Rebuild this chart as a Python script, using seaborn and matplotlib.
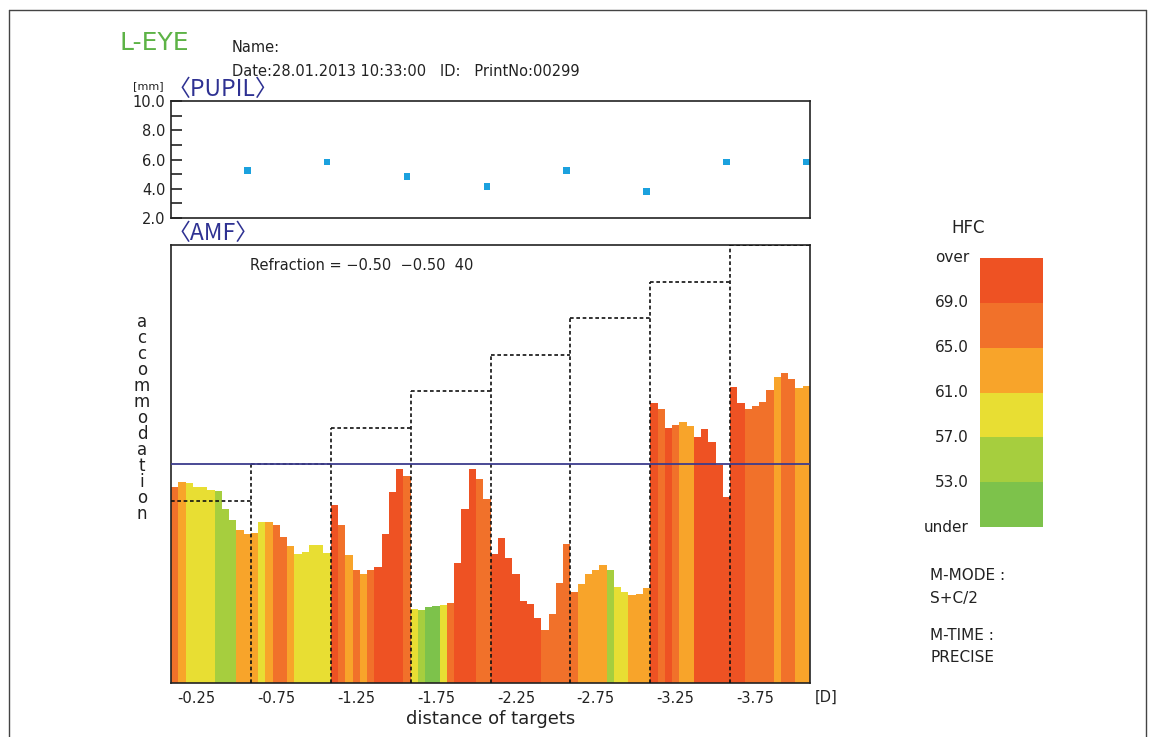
"""
AMF (accommodation micro-fluctuation) report, L-EYE, recreated with seaborn.
"""
import matplotlib
matplotlib.use("Agg")
import matplotlib.pyplot as plt
from matplotlib.colors import ListedColormap
from matplotlib.lines import Line2D
import numpy as np
import pandas as pd
import seaborn as sns

# ---- data ----
target_labels = ["-0.25", "-0.75", "-1.25", "-1.75", "-2.25", "-2.75", "-3.25", "-3.75"]
target_level = [2.5, 3.0, 3.5, 4.0, 4.5, 5.0, 5.5, 6.0]   # dashed staircase
refraction_level = 3.0                                    # solid blue line

pupil_mm = [5.25, 5.83, 4.83, 4.14, 5.25, 3.81, 5.83, 5.83]

# accommodation per bar, 11 bars per target
amf_g1 = [2.69, 2.75, 2.74, 2.68, 2.68, 2.65, 2.63, 2.39, 2.23, 2.09, 2.04]
amf_g2 = [2.06, 2.20, 2.20, 2.16, 2.00, 1.88, 1.77, 1.80, 1.89, 1.89, 1.78]
amf_g3 = [2.44, 2.16, 1.76, 1.55, 1.50, 1.55, 1.59, 2.04, 2.61, 2.93, 2.84]
amf_g4 = [1.02, 1.00, 1.04, 1.05, 1.07, 1.10, 1.65, 2.39, 2.93, 2.80, 2.52]
amf_g5 = [1.77, 1.98, 1.71, 1.50, 1.13, 1.08, 0.89, 0.73, 0.95, 1.37, 1.91]
amf_g6 = [1.25, 1.36, 1.49, 1.55, 1.62, 1.55, 1.32, 1.25, 1.21, 1.22, 1.30]
amf_g7 = [3.84, 3.75, 3.50, 3.54, 3.57, 3.52, 3.37, 3.48, 3.30, 2.99, 2.55]
amf_g8 = [4.06, 3.84, 3.75, 3.79, 3.85, 4.02, 4.19, 4.24, 4.16, 4.04, 4.07]

# HFC class per bar: 0=under..53, 1=53-57, 2=57-61, 3=61-65, 4=65-69, 5=over
hfc_g1 = [4, 3, 2, 2, 2, 2, 1, 1, 1, 3, 3]
hfc_g2 = [3, 2, 3, 4, 4, 3, 2, 2, 2, 2, 2]
hfc_g3 = [5, 4, 3, 4, 3, 4, 5, 5, 5, 5, 4]
hfc_g4 = [2, 1, 0, 0, 2, 4, 5, 5, 5, 4, 4]
hfc_g5 = [5, 5, 5, 5, 5, 5, 5, 4, 4, 4, 4]
hfc_g6 = [4, 3, 3, 3, 3, 1, 2, 2, 3, 3, 3]
hfc_g7 = [5, 4, 5, 4, 3, 3, 5, 5, 5, 5, 5]
hfc_g8 = [5, 5, 4, 4, 4, 4, 3, 4, 4, 3, 3]

hfc_colors = ["#7DC24B", "#A6CE3E", "#E8DE33", "#F8A42A", "#F1712A", "#EE5223"]
hfc_ticks = ["over", "69.0", "65.0", "61.0", "57.0", "53.0", "under"]

amf_groups = [amf_g1, amf_g2, amf_g3, amf_g4, amf_g5, amf_g6, amf_g7, amf_g8]
hfc_groups = [hfc_g1, hfc_g2, hfc_g3, hfc_g4, hfc_g5, hfc_g6, hfc_g7, hfc_g8]
n_per = len(amf_g1)
n_bars = n_per * len(amf_groups)

df = pd.DataFrame({
    "bar": np.arange(n_bars),
    "accommodation": np.concatenate(amf_groups),
    "hfc": np.concatenate(hfc_groups),
})

sns.set_theme(style="white")
plt.rcParams["font.family"] = ["DejaVu Sans", "Noto Sans CJK JP"]

W, H = 1153, 737
fig = plt.figure(figsize=(W / 100, H / 100), dpi=100)


def fx(px):
    return px / W


def fy(py):
    return 1 - py / H


NAVY = "#2E3192"
TXT = "#222222"
CJK = ["Noto Sans CJK JP", "DejaVu Sans"]

# ---- pupil panel ----
ax_p = fig.add_axes([fx(171), fy(218), fx(810) - fx(171), fy(101) - fy(218)])
pupil_x = [g * n_per + n_per - 1 for g in range(len(pupil_mm))]
sns.scatterplot(x=pupil_x, y=pupil_mm, marker="s", s=22, color="#1BA1DE",
                edgecolor="none", linewidth=0, ax=ax_p)
ax_p.set_xlim(-0.5, n_bars - 0.5)
ax_p.set_ylim(2.0, 10.0)
ax_p.set_yticks(np.arange(2, 11, 2))
ax_p.set_yticks(np.arange(3, 10, 2), minor=True)
ax_p.set_yticklabels([f"{v:.1f}" for v in np.arange(2, 11, 2)], fontsize=10.5, color=TXT)
ax_p.tick_params(axis="y", which="both", direction="in", length=8, width=1.2,
                 left=True, pad=4, color="#222222")
ax_p.set_xticks([])
for s in ax_p.spines.values():
    s.set_color("#222222")
    s.set_linewidth(1.2)

# ---- AMF panel ----
ax = fig.add_axes([fx(171), fy(683), fx(810) - fx(171), fy(245) - fy(683)])
sns.barplot(data=df, x="bar", y="accommodation", hue="hfc",
            palette=dict(enumerate(hfc_colors)), dodge=False, width=1.0,
            saturation=1, linewidth=0, legend=False, ax=ax)
ax.set_xlim(-0.5, n_bars - 0.5)
ax.set_ylim(0, 6.0)

# target staircase
dash = (0, (2.2, 1.6))
for g, lvl in enumerate(target_level):
    ax.hlines(lvl, g * n_per - 0.5, (g + 1) * n_per - 0.5, colors="#111111",
              linestyles=dash, linewidth=1.2, zorder=4)
    if g > 0:
        ax.vlines(g * n_per - 0.5, 0, max(lvl, target_level[g - 1]), colors="#111111",
                  linestyles=dash, linewidth=1.2, zorder=4)
ax.axhline(refraction_level, color="#3C3C8C", linewidth=1.3, zorder=5)

ax.set_xticks([g * n_per + 3 for g in range(len(target_labels))])
ax.set_xticklabels(target_labels, fontsize=10.5, color=TXT)
ax.set_yticks([])
ax.tick_params(axis="x", length=0, pad=6)
ax.set_xlabel("distance of targets", fontsize=13, color=TXT, labelpad=3)
ax.set_ylabel("")
for s in ax.spines.values():
    s.set_color("#222222")
    s.set_linewidth(1.2)

# stacked y label
for i, ch in enumerate("accommodation"):
    fig.text(fx(142), fy(327 + 16 * i), ch, fontsize=12, color=TXT,
             ha="center", va="baseline")

# ---- HFC legend ----
lax = fig.add_axes([fx(980), fy(527), fx(1043) - fx(980), fy(258) - fy(527)])
sns.heatmap(np.arange(len(hfc_colors))[::-1].reshape(-1, 1), cmap=ListedColormap(hfc_colors),
            vmin=-0.5, vmax=len(hfc_colors) - 0.5, cbar=False, xticklabels=False,
            linewidths=0, ax=lax)
lax.set_yticks(np.arange(len(hfc_ticks)))
lax.set_yticklabels(hfc_ticks, rotation=0, fontsize=11, color=TXT)
lax.tick_params(axis="y", length=0, pad=8)
lax.tick_params(axis="x", length=0)

# ---- texts ----
fig.text(fx(119), fy(43), "L-EYE", fontsize=18, color="#5DB346", va="center")
fig.text(fx(232), fy(47), "Name:", fontsize=10.5, color=TXT, va="center")
fig.text(fx(232), fy(72), "Date:28.01.2013 10:33:00   ID:   PrintNo:00299",
         fontsize=10.5, color=TXT, va="center")
fig.text(fx(133), fy(86), "[mm]", fontsize=8, color=TXT, va="center")
fig.text(fx(168), fy(90), "〈PUPIL〉", fontsize=16.5, color=NAVY, va="center", family=CJK)
fig.text(fx(168), fy(234), "〈AMF〉", fontsize=16.5, color=NAVY, va="center", family=CJK)
fig.text(fx(250), fy(265), "Refraction = \u22120.50  \u22120.50  40", fontsize=10.5,
         color=TXT, va="center")
fig.text(fx(826), fy(697), "[D]", fontsize=10.5, color=TXT, ha="center", va="center")
fig.text(fx(968), fy(228), "HFC", fontsize=12, color=TXT, ha="center", va="center")
fig.text(fx(930), fy(576), "M-MODE :", fontsize=11, color=TXT, va="center")
fig.text(fx(930), fy(599), "S+C/2", fontsize=11, color=TXT, va="center")
fig.text(fx(930), fy(635), "M-TIME :", fontsize=11, color=TXT, va="center")
fig.text(fx(930), fy(658), "PRECISE", fontsize=11, color=TXT, va="center")

# page frame
frame = dict(color="#444444", linewidth=1.0, transform=fig.transFigure)
fig.add_artist(Line2D([fx(9), fx(1146)], [fy(10), fy(10)], **frame))
fig.add_artist(Line2D([fx(9), fx(9)], [fy(10), 0], **frame))
fig.add_artist(Line2D([fx(1146), fx(1146)], [fy(10), 0], **frame))

fig.savefig("out.png", dpi=100)
plt.close(fig)
